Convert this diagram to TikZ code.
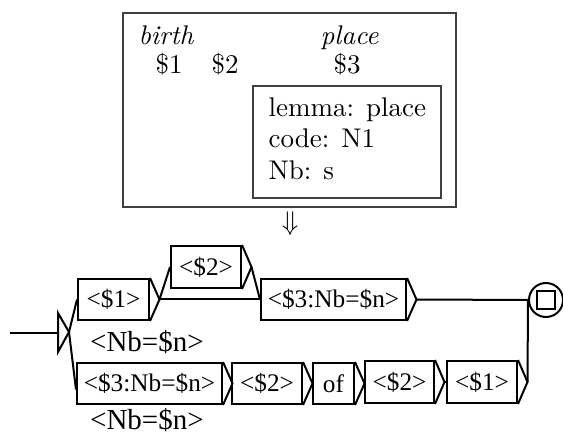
\documentclass[tikz,border=0pt]{standalone}
\usepackage{fontspec}
\newfontfamily\tms{Liberation Serif}
\tikzset{
  gbox/.style={draw, line width=2pt, inner sep=0pt, font=\tms\fontsize{25.3}{28}\selectfont, minimum height=41pt},
  gline/.style={line width=2pt},
  lbl/.style={font=\tms\fontsize{29}{32}\selectfont, anchor=base west, inner sep=0pt},
  lmtext/.style={font=\fontsize{10}{12}\selectfont, scale=2.7, inner sep=0pt, anchor=base west},
  frame/.style={draw=black!75, line width=1.2pt, inner sep=0pt},
}
\begin{document}
\begin{tikzpicture}[x=1pt,y=-1pt]
\useasboundingbox (0,0) rectangle (563,438);
% top feature box
\node[frame, minimum width=333pt, minimum height=194pt] (outer) at (289.5,110) {};
\node[frame, minimum width=188pt, minimum height=112pt] (inner) at (347,142) {};
\node[lmtext] (tbirth) at (138,45) {\itshape birth};
\node[lmtext] (tplace) at (320,45) {\itshape place};
\node[lmtext] (t1) at (155,74) {\$1};
\node[lmtext] (t2) at (211,74) {\$2};
\node[lmtext] (t3) at (333,74) {\$3};
\node[lmtext] (l1) at (268,117) {lemma: place};
\node[lmtext] (l2) at (268,148) {code: N1};
\node[lmtext] (l3) at (268,180) {Nb: s};
\node[font=\fontsize{10}{12}\selectfont, scale=2.7, inner sep=0pt] (arr) at (290,224) {$\Downarrow$};
% graph
\coordinate (istart) at (10,333);
\coordinate (itop) at (58,313);
\coordinate (ibot) at (58,352);
\coordinate (itip) at (69,332);
\node[gbox, minimum width=71pt] (b1) at (113.5,299.5) {<\$1>};
\node[gbox, minimum width=70pt, minimum height=42pt] (b2) at (206,267) {<\$2>};
\node[gbox, minimum width=145pt] (b3) at (333.5,299.5) {<\$3:Nb=\$n>};
\node[gbox, minimum width=145pt] (c1) at (149.5,383.5) {<\$3:Nb=\$n>};
\node[gbox, minimum width=70pt] (c2) at (267,383.5) {<\$2>};
\node[gbox, minimum width=41pt] (c3) at (333.5,383.5) {of};
\node[gbox, minimum width=69pt, minimum height=42pt] (c4) at (399.5,382) {<\$2>};
\node[gbox, minimum width=70pt, minimum height=42pt] (c5) at (482,382) {<\$1>};
\foreach \n in {b1,b2,b3,c1,c2,c3,c4,c5}
  \draw[gline] (\n.north east) -- ([xshift=9.5pt]\n.east) coordinate (\n-t) -- (\n.south east);
\node[draw, circle, line width=2pt, minimum size=34pt, inner sep=0pt] (fin) at (546,300) {};
\node[draw, line width=2pt, minimum size=18pt, inner sep=0pt] (finsq) at (546,300) {};
\node[lbl] (n1) at (90,352) {<Nb=\$n>};
\node[lbl] (n2) at (90,430) {<Nb=\$n>};
% connectors
\draw[gline] (istart) -- (itop |- istart);
\draw[gline] (itop) -- (ibot) -- (itip) -- cycle;
\draw[gline] (itip) -- (b1.west);
\draw[gline] (itip) -- ([yshift=-6pt]c1.west);
\draw[gline] (b1-t) -- (b2.west);
\draw[gline] (b1-t) -- (b3.west);
\draw[gline] (b2-t) -- (b3.west);
\draw[gline] (b3-t) -- (fin.west);
\draw[gline] (c1-t) -- (c2.west);
\draw[gline] (c2-t) -- (c3.west);
\draw[gline] (c3-t) -- (c4.west);
\draw[gline] (c4-t) -- (c5.west);
\draw[gline] (c5-t) -- (fin.west);
\end{tikzpicture}
\end{document}
